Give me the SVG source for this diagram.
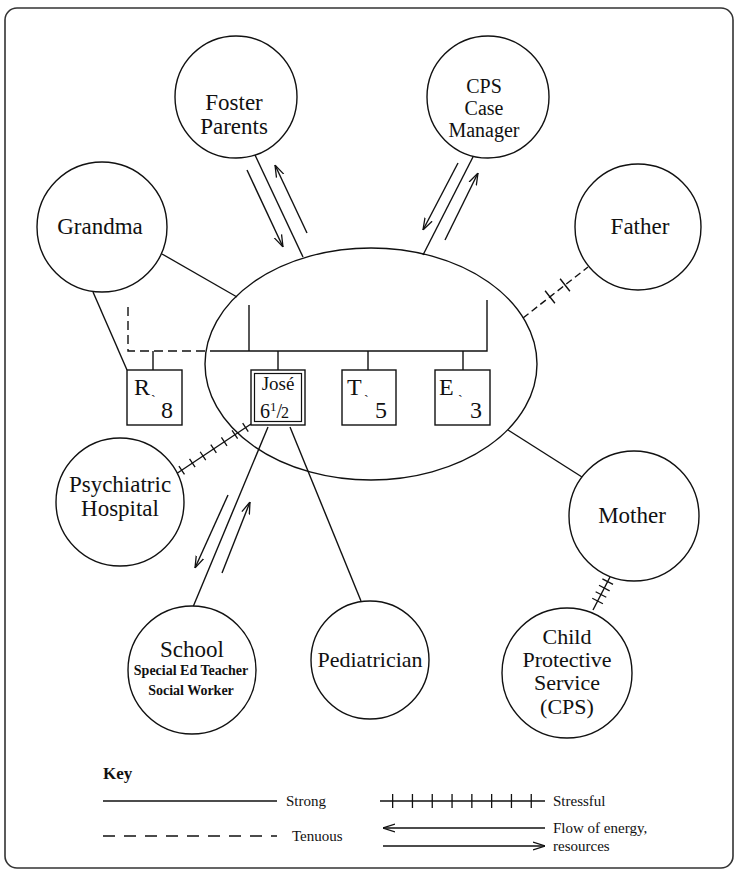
<svg xmlns="http://www.w3.org/2000/svg" width="737" height="874" viewBox="0 0 737 874">
<defs>
<marker id="arr" viewBox="0 0 12 10" refX="12" refY="5" markerWidth="12" markerHeight="10" markerUnits="userSpaceOnUse" orient="auto">
<path d="M0,1 L12,5 L0,9" fill="none" stroke="#111" stroke-width="1.3"/>
</marker>
<style>
.ln{stroke:#111;stroke-width:1.4;fill:none}
.ds{stroke:#111;stroke-width:1.4;fill:none;stroke-dasharray:9 5}
.tk{stroke:#111;fill:none;stroke-linecap:butt}
.nd{fill:#fff;stroke:#111;stroke-width:1.4}
.t{font-family:"Liberation Serif","Times New Roman",serif;font-size:23px;fill:#111;text-anchor:middle}
.b{font-family:"Liberation Serif","Times New Roman",serif;font-size:24px;fill:#111}
.k{font-family:"Liberation Serif","Times New Roman",serif;font-size:15px;fill:#111}
</style>
</defs>
<rect x="0" y="0" width="737" height="874" fill="#fff"/>
<rect x="5" y="8" width="728" height="860" rx="12" fill="none" stroke="#333" stroke-width="1.6"/>

<g id="family">
<ellipse cx="371" cy="364" rx="166" ry="116" class="ln"/>
</g>

<g id="connectors">
<path class="ds" d="M128,307 V351 H210"/>
<path class="ln" d="M210,351 H487 V300 M249,305 V351 M153,351 V370 M278,351 V370 M368,351 V370 M463,351 V370"/>
<line class="ln" x1="162" y1="254" x2="237" y2="297"/>
<line class="ln" x1="93" y1="292" x2="127" y2="370"/>
<line class="ln" x1="255" y1="155" x2="303" y2="257"/>
<line class="ln" x1="247" y1="170" x2="283" y2="247" marker-end="url(#arr)"/>
<line class="ln" x1="307" y1="233" x2="275" y2="165" marker-end="url(#arr)"/>
<line class="ln" x1="475" y1="153" x2="423" y2="255"/>
<line class="ln" x1="458" y1="163" x2="423" y2="230" marker-end="url(#arr)"/>
<line class="ln" x1="445" y1="240" x2="478" y2="173" marker-end="url(#arr)"/>
<line class="ds" x1="523" y1="318" x2="588" y2="267" style="stroke-dasharray:7 4"/>
<path class="ln" d="M545.1,290.7 L554.9,303.3 M560.1,278.7 L569.9,291.3"/>
<line class="ln" x1="508" y1="430" x2="582" y2="477"/>
<line class="ln" x1="610" y1="577" x2="593" y2="610"/>
<line class="tk" x1="608" y1="581" x2="595" y2="606" stroke-width="12" stroke-dasharray="1.3 6"/>
<line class="ln" x1="251" y1="424" x2="170" y2="478"/>
<line class="tk" x1="246" y1="427" x2="176" y2="474" stroke-width="10" stroke-dasharray="1.3 11.5"/>
<line class="ln" x1="268" y1="427" x2="193" y2="607"/>
<line class="ln" x1="228" y1="495" x2="195" y2="568" marker-end="url(#arr)"/>
<line class="ln" x1="222" y1="573" x2="250" y2="502" marker-end="url(#arr)"/>
<line class="ln" x1="290" y1="427" x2="361" y2="601"/>
</g>

<g id="foster-parents">
<circle class="nd" cx="236" cy="97" r="61"/>
<text class="t" x="234" y="110">Foster</text>
<text class="t" x="234" y="134">Parents</text>
</g>
<g id="cps-case-manager">
<circle class="nd" cx="488" cy="97" r="61"/>
<text class="t" x="484" y="93" style="font-size:20px">CPS</text>
<text class="t" x="484" y="115" style="font-size:20px">Case</text>
<text class="t" x="484" y="137" style="font-size:20px">Manager</text>
</g>
<g id="grandma">
<circle class="nd" cx="102" cy="227" r="65"/>
<text class="t" x="100" y="234">Grandma</text>
</g>
<g id="father">
<circle class="nd" cx="638" cy="227" r="63"/>
<text class="t" x="640" y="234">Father</text>
</g>
<g id="psychiatric-hospital">
<circle class="nd" cx="120" cy="502" r="64"/>
<text class="t" x="120" y="492">Psychiatric</text>
<text class="t" x="120" y="516">Hospital</text>
</g>
<g id="mother">
<circle class="nd" cx="634" cy="516" r="65"/>
<text class="t" x="632" y="523">Mother</text>
</g>
<g id="school">
<circle class="nd" cx="192" cy="670" r="64"/>
<text class="t" x="192" y="657">School</text>
<text class="t" x="191" y="675" style="font-size:14px;font-weight:bold">Special Ed Teacher</text>
<text class="t" x="191" y="695" style="font-size:14px;font-weight:bold">Social Worker</text>
</g>
<g id="pediatrician">
<circle class="nd" cx="370" cy="660" r="59"/>
<text class="t" x="370" y="667" style="font-size:22px">Pediatrician</text>
</g>
<g id="child-protective-service">
<circle class="nd" cx="567" cy="673" r="65"/>
<text class="t" x="567" y="644" style="font-size:22px">Child</text>
<text class="t" x="567" y="667" style="font-size:22px">Protective</text>
<text class="t" x="567" y="690" style="font-size:22px">Service</text>
<text class="t" x="567" y="714" style="font-size:22px">(CPS)</text>
</g>

<g id="child-r">
<rect class="nd" x="127" y="370" width="55" height="55"/>
<text class="b" x="134" y="395">R</text>
<text class="k" x="151" y="405" style="font-size:14px">`</text>
<text class="b" x="161" y="418">8</text>
</g>
<g id="child-jose">
<rect class="nd" x="251" y="370" width="54" height="55"/>
<rect x="254.5" y="373.5" width="47" height="48" fill="none" stroke="#111" stroke-width="1.2"/>
<text class="t" x="278" y="390" style="font-size:19px">José</text>
<text class="b" x="260" y="418" style="font-size:20px">6<tspan font-size="13" dy="-7">1</tspan><tspan dy="7">/</tspan><tspan font-size="16" dx="-1">2</tspan></text>
</g>
<g id="child-t">
<rect class="nd" x="342" y="370" width="54" height="55"/>
<text class="b" x="347" y="395">T</text>
<text class="k" x="364" y="405" style="font-size:14px">`</text>
<text class="b" x="375" y="418">5</text>
</g>
<g id="child-e">
<rect class="nd" x="435" y="370" width="55" height="55"/>
<text class="b" x="439" y="395">E</text>
<text class="k" x="458" y="405" style="font-size:14px">`</text>
<text class="b" x="470" y="418">3</text>
</g>

<g id="key">
<text class="k" x="103" y="779" style="font-weight:bold;font-size:17px">Key</text>
<line class="ln" x1="103" y1="801" x2="277" y2="801"/>
<text class="k" x="286" y="806">Strong</text>
<line class="ds" x1="103" y1="836" x2="277" y2="836" style="stroke-dasharray:12 9"/>
<text class="k" x="292" y="841">Tenuous</text>
<line class="ln" x1="380" y1="801" x2="545" y2="801"/>
<line class="tk" x1="392" y1="801" x2="535" y2="801" stroke-width="14" stroke-dasharray="1.3 18.5"/>
<text class="k" x="553" y="806">Stressful</text>
<line class="ln" x1="545" y1="828" x2="383" y2="828" marker-end="url(#arr)"/>
<line class="ln" x1="383" y1="846" x2="545" y2="846" marker-end="url(#arr)"/>
<text class="k" x="553" y="833">Flow of energy,</text>
<text class="k" x="553" y="851">resources</text>
</g>
</svg>
